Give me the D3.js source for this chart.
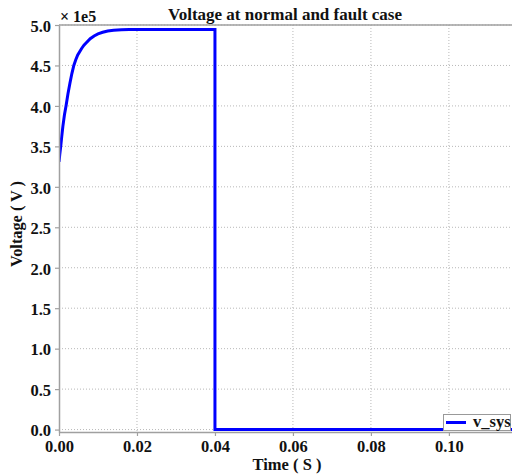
<!DOCTYPE html>
<html>
<head>
<meta charset="utf-8">
<script src="https://cdn.jsdelivr.net/npm/d3@7"></script>
<style>
  html, body { margin: 0; padding: 0; background: #fff; }
  svg { display: block; }
  text { font-family: "Liberation Serif", "Times New Roman", serif; font-weight: bold; fill: #111; }
</style>
</head>
<body>
<svg id="chart" width="512" height="474"></svg>
<script>
// Time samples (s) and system voltage (V) for v_sys
const timeS = [0, 0.0002, 0.00044, 0.0007, 0.001, 0.0014, 0.0018, 0.0023, 0.0028, 0.0033, 0.0038,
  0.0043, 0.0048, 0.0053, 0.0058, 0.0064, 0.0070, 0.0080, 0.0090, 0.0100, 0.0112,
  0.0125, 0.0140, 0.0160, 0.0180, 0.0200, 0.0250, 0.0300, 0.0350, 0.0400,
  0.0400, 0.0500, 0.0600, 0.0800, 0.1000, 0.1200];
const vSys = [3.31e5, 3.40e5, 3.50e5, 3.62e5, 3.75e5, 3.89e5, 4.00e5, 4.15e5, 4.28e5, 4.40e5, 4.50e5,
  4.57e5, 4.63e5, 4.67e5, 4.71e5, 4.75e5, 4.78e5, 4.83e5, 4.865e5, 4.89e5, 4.91e5,
  4.925e5, 4.935e5, 4.941e5, 4.944e5, 4.945e5, 4.945e5, 4.945e5, 4.945e5, 4.945e5,
  0, 0, 0, 0, 0, 0];
const xTicks = [0.00, 0.02, 0.04, 0.06, 0.08, 0.10];
const yTicks = [0, 0.5e5, 1.0e5, 1.5e5, 2.0e5, 2.5e5, 3.0e5, 3.5e5, 4.0e5, 4.5e5, 5.0e5];
const seriesName = "v_sys";

const svg = d3.select("#chart");
const plot = { left: 59, right: 514, top: 25, bottom: 432 };

const x = d3.scaleLinear().domain([0, 0.1167]).range([plot.left, plot.right]);
const y = d3.scaleLinear().domain([-0.03e5, 5.0e5]).range([plot.bottom, plot.top]);

// grid
const grid = svg.append("g");
grid.selectAll("line.gx").data(xTicks.slice(1)).join("line")
  .attr("x1", d => x(d)).attr("x2", d => x(d))
  .attr("y1", plot.top).attr("y2", plot.bottom)
  .attr("stroke", "#b8b8b8").attr("stroke-width", 1).attr("stroke-dasharray", "1,2");
grid.selectAll("line.gy").data(yTicks).join("line")
  .attr("x1", plot.left).attr("x2", plot.right)
  .attr("y1", d => y(d)).attr("y2", d => y(d))
  .attr("stroke", "#b8b8b8").attr("stroke-width", 1).attr("stroke-dasharray", "1,2");

// clip
svg.append("clipPath").attr("id", "clip").append("rect")
  .attr("x", plot.left).attr("y", plot.top - 3)
  .attr("width", plot.right - plot.left).attr("height", plot.bottom - plot.top + 3);

// data line
const pts = timeS.map((t, i) => [t, vSys[i]]);
svg.append("path")
  .datum(pts)
  .attr("clip-path", "url(#clip)")
  .attr("fill", "none")
  .attr("stroke", "#0000ff")
  .attr("stroke-width", 3)
  .attr("stroke-linejoin", "miter")
  .attr("d", d3.line().x(d => x(d[0])).y(d => y(d[1])));

// axes
const axisColor = "#a0a0a0";
const xAxis = svg.append("g").attr("transform", `translate(0,${plot.bottom})`)
  .call(d3.axisBottom(x).tickValues(xTicks).tickFormat(d3.format(".2f")).tickSizeInner(4).tickSizeOuter(0));
const yAxis = svg.append("g").attr("transform", `translate(${plot.left},0)`)
  .call(d3.axisLeft(y).tickValues(yTicks).tickFormat(d => (d / 1e5).toFixed(1)).tickSizeInner(4).tickSizeOuter(0));
[xAxis, yAxis].forEach(a => {
  a.attr("font-family", null);
  a.select(".domain").attr("stroke", axisColor).attr("stroke-width", 1.5);
  a.selectAll(".tick line").attr("stroke", axisColor).attr("stroke-width", 1.2);
  a.selectAll(".tick text").attr("font-size", 16.5).attr("fill", "#111");
});
xAxis.selectAll(".tick text").attr("y", 19.5).attr("dy", 0);
yAxis.selectAll(".tick text").attr("x", -8).attr("dy", "0.38em");

// top border
svg.append("line")
  .attr("x1", plot.left).attr("x2", plot.right)
  .attr("y1", plot.top).attr("y2", plot.top)
  .attr("stroke", axisColor).attr("stroke-width", 1.5);

// titles
svg.append("text").attr("x", 285).attr("y", 20).attr("text-anchor", "middle")
  .attr("font-size", 17).text("Voltage at normal and fault case");
svg.append("text").attr("x", 60).attr("y", 22).attr("font-size", 16)
  .text("\u00d7 1e5");
svg.append("text").attr("x", 287).attr("y", 470).attr("text-anchor", "middle")
  .attr("font-size", 16.5).text("Time ( S )");
svg.append("text").attr("transform", `translate(22,224) rotate(-90)`)
  .attr("text-anchor", "middle").attr("font-size", 16.3).text("Voltage ( V )");

// legend
const lg = svg.append("g");
lg.append("rect").attr("x", 443.5).attr("y", 414.5).attr("width", 67).attr("height", 16)
  .attr("fill", "#fff").attr("stroke", "#999").attr("stroke-width", 1);
lg.append("line").attr("x1", 446).attr("x2", 466).attr("y1", 422.5).attr("y2", 422.5)
  .attr("stroke", "#0000ff").attr("stroke-width", 3);
lg.append("text").attr("x", 473).attr("y", 427).attr("font-size", 16.5).text(seriesName);
</script>
</body>
</html>
